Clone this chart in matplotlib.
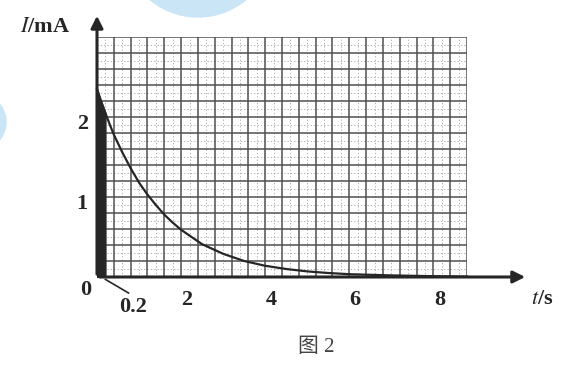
import matplotlib
matplotlib.use('Agg')
import matplotlib.pyplot as plt
import numpy as np
from matplotlib.patches import Ellipse

plt.rcParams['mathtext.fontset'] = 'stix'

# values
t_vals = [0, 0.1, 0.2, 0.3, 0.4, 0.6, 0.8, 1.0, 1.2, 1.4, 1.6, 1.8, 2.0, 2.25, 2.5, 2.75,
          3.0, 3.5, 4.0, 4.5, 5.0, 5.5, 6.0, 7.0, 8.0, 8.8]
i_vals = [2.35, 2.19, 2.05, 1.91, 1.78, 1.56, 1.36, 1.18, 1.03, 0.90, 0.78, 0.68, 0.59,
          0.50, 0.41, 0.35, 0.29, 0.20, 0.14, 0.10, 0.07, 0.05, 0.035, 0.02, 0.01, 0.005]
x_ticks = [2, 4, 6, 8]
y_ticks = [1, 2]
t_max = 8.8
i_max = 3.0

serif = ['Liberation Serif', 'Noto Sans CJK SC']
ink = '#262626'

fig = plt.figure(figsize=(5.63, 3.67), dpi=100)
fig.patch.set_facecolor('white')

# light blue watermark blobs from the scan
blue = '#c9e5f6'
fig.add_artist(Ellipse((198 / 563, 1 + 58 / 367), 150 / 563, 150 / 367,
                       transform=fig.transFigure, color=blue, zorder=0))
fig.add_artist(Ellipse((-22 / 563, 1 - 122 / 367), 56 / 563, 56 / 367,
                       transform=fig.transFigure, color=blue, zorder=0))

ax = fig.add_axes([97 / 563, 90 / 367, 370 / 563, 240 / 367])
ax.set_xlim(0, t_max)
ax.set_ylim(0, i_max)
ax.axis('off')

# graph paper
for x in np.arange(0.2, t_max, 0.4):
    ax.axvline(x, color='#a0a0a0', lw=0.6, ls=(0, (1.5, 2.5)), zorder=1)
for y in np.arange(0.1, i_max, 0.2):
    ax.axhline(y, color='#a0a0a0', lw=0.6, ls=(0, (1.5, 2.5)), zorder=1)
for x in np.arange(0.4, t_max + 0.01, 0.4):
    ax.axvline(x, color='#505050', lw=1.1, zorder=2)
for y in np.arange(0.2, i_max + 0.01, 0.2):
    ax.axhline(y, color='#505050', lw=1.1, zorder=2)

# discharge curve and the shaded strip 0..0.2 s
ax.plot(t_vals, i_vals, color=ink, lw=1.6, zorder=4, clip_on=False)
ax.fill_between(t_vals[:3], i_vals[:3], color=ink, zorder=4)

# axes with arrows
ax.annotate('', xy=(10.25, 0), xytext=(0, 0), annotation_clip=False,
            arrowprops=dict(arrowstyle='-|>', color=ink, lw=2.2, mutation_scale=18))
ax.annotate('', xy=(0, 3.3), xytext=(0, 0), annotation_clip=False,
            arrowprops=dict(arrowstyle='-|>', color=ink, lw=2.2, mutation_scale=18))

# tick labels
for x in x_ticks:
    ax.annotate(str(x), xy=(x, -0.29), xytext=(6, 0), textcoords='offset pixels',
                ha='center', va='center', fontsize=16, family=serif, color=ink,
                fontweight='bold', annotation_clip=False)
for y in y_ticks:
    ax.annotate(str(y), xy=(-0.22, y), xytext=(0, -7), textcoords='offset pixels',
                ha='right', va='center', fontsize=16, family=serif, color=ink,
                fontweight='bold', annotation_clip=False)
ax.text(-0.26, -0.16, '0', ha='center', va='center', fontsize=16, family=serif,
        color=ink, fontweight='bold')
ax.text(0.86, -0.38, '0.2', ha='center', va='center', fontsize=16, family=serif,
        color=ink, fontweight='bold')
ax.plot([0.2, 0.75], [-0.03, -0.2], color=ink, lw=1.2, clip_on=False)

# axis names and caption
ax.text(-1.24, 3.12, r'$\mathbf{\mathit{I}}$/mA', ha='center', va='center', fontsize=16,
        family=serif, color=ink, fontweight='bold')
ax.text(10.58, -0.27, r'$\mathit{t}$/s', ha='center', va='center', fontsize=16,
        family=serif, color=ink, fontweight='bold')
ax.text(5.21, -0.88, '图 2', ha='center', va='center', fontsize=15, family=serif,
        color='#444444')

fig.savefig('out.png', dpi=100)
